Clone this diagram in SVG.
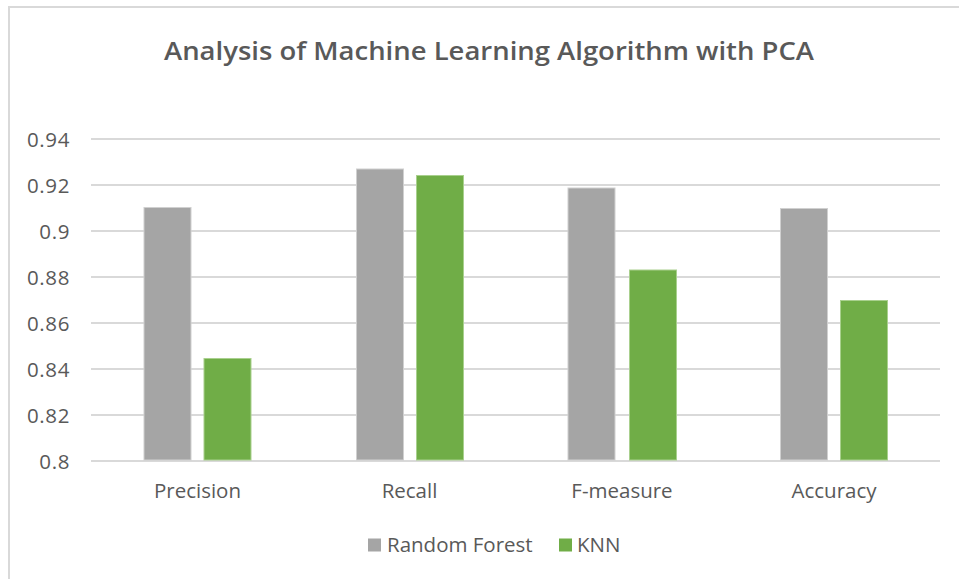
<svg xmlns="http://www.w3.org/2000/svg" width="959" height="579" viewBox="0 0 959 579">
<style>
text{font-family:"Open Sans","Noto Sans","Liberation Sans",sans-serif;fill:#595959}
.ax{font-size:20.5px;text-anchor:end;letter-spacing:0.6px}
.cat{font-size:20.5px;text-anchor:middle}
.grid{stroke:#D9D9D9;stroke-width:2}
.rf{fill:#A5A5A5;stroke:#D0D0D0;stroke-width:1}
.knn{fill:#70AD47;stroke:#A9D08E;stroke-width:1}
.leg{font-size:20.5px}
</style>
<rect x="0" y="0" width="959" height="579" fill="#FFFFFF"/>
<path d="M9 579 V7 H959" fill="none" stroke="#D9D9D9" stroke-width="2"/>
<text id="title" x="489" y="60" text-anchor="middle" font-size="25" font-weight="600" textLength="650" lengthAdjust="spacingAndGlyphs">Analysis of Machine Learning Algorithm with PCA</text>
<g id="gridlines">
<line class="grid" x1="91" y1="139" x2="940" y2="139"/>
<line class="grid" x1="91" y1="185" x2="940" y2="185"/>
<line class="grid" x1="91" y1="231" x2="940" y2="231"/>
<line class="grid" x1="91" y1="277" x2="940" y2="277"/>
<line class="grid" x1="91" y1="323" x2="940" y2="323"/>
<line class="grid" x1="91" y1="369" x2="940" y2="369"/>
<line class="grid" x1="91" y1="415" x2="940" y2="415"/>
<line class="grid" x1="91" y1="461" x2="940" y2="461"/>
</g>
<g id="yaxis">
<text class="ax" x="70" y="146.5">0.94</text>
<text class="ax" x="70" y="192.5">0.92</text>
<text class="ax" x="70" y="238.5">0.9</text>
<text class="ax" x="70" y="284.5">0.88</text>
<text class="ax" x="70" y="330.5">0.86</text>
<text class="ax" x="70" y="376.5">0.84</text>
<text class="ax" x="70" y="422.5">0.82</text>
<text class="ax" x="70" y="468.5">0.8</text>
</g>
<g id="precision">
<rect class="rf" x="144" y="207.5" width="47" height="252.5"/>
<rect class="knn" x="204" y="358.5" width="47" height="101.5"/>
<text class="cat" x="197.5" y="498">Precision</text>
</g>
<g id="recall">
<rect class="rf" x="356.5" y="169" width="47" height="291"/>
<rect class="knn" x="416.5" y="175.5" width="47" height="284.5"/>
<text class="cat" x="409.5" y="498">Recall</text>
</g>
<g id="fmeasure">
<rect class="rf" x="568" y="188" width="47" height="272"/>
<rect class="knn" x="629.5" y="270" width="47" height="190"/>
<text class="cat" x="622" y="498">F-measure</text>
</g>
<g id="accuracy">
<rect class="rf" x="780.5" y="208.5" width="47" height="251.5"/>
<rect class="knn" x="840.5" y="300.5" width="47" height="159.5"/>
<text class="cat" x="834" y="498">Accuracy</text>
</g>
<g id="connectors"></g>
<g id="legend">
<rect x="368" y="538.5" width="13" height="13" fill="#A5A5A5"/>
<text class="leg" x="387" y="551.5">Random Forest</text>
<rect x="559" y="538.5" width="13" height="13" fill="#70AD47"/>
<text class="leg" x="577" y="551.5">KNN</text>
</g>
</svg>
